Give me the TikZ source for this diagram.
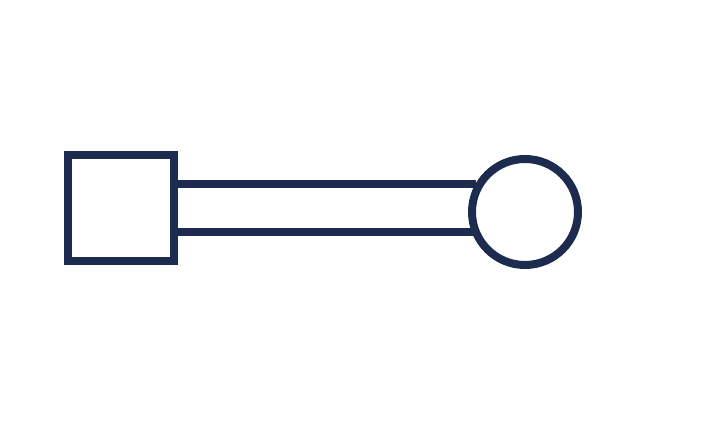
\documentclass[tikz,border=0pt]{standalone}
\usepackage{tikz}
\usetikzlibrary{positioning}
\definecolor{darkNavy}{RGB}{29,43,78}

\begin{document}
\begin{tikzpicture}[x=1pt, y=1pt, line width=8pt,
  box/.style={draw=darkNavy, fill=white, rectangle, minimum size=106pt, inner sep=0pt, outer sep=0pt},
  ball/.style={draw=darkNavy, fill=white, circle, minimum size=106pt, inner sep=0pt, outer sep=0pt}]
	\useasboundingbox (0,0) rectangle (713,425);
	\node[box] (hub) at (120.5,217) {};
	\node[ball] (knob) at (525,213) {};
	\coordinate (barTop) at (0,241);
	\coordinate (barBottom) at (0,193);
	\draw[darkNavy] (hub.east |- barTop) -- ([xshift=4pt]knob.west |- barTop);
	\draw[darkNavy] (hub.east |- barBottom) -- ([xshift=4pt]knob.west |- barBottom);
\end{tikzpicture}
\end{document}
